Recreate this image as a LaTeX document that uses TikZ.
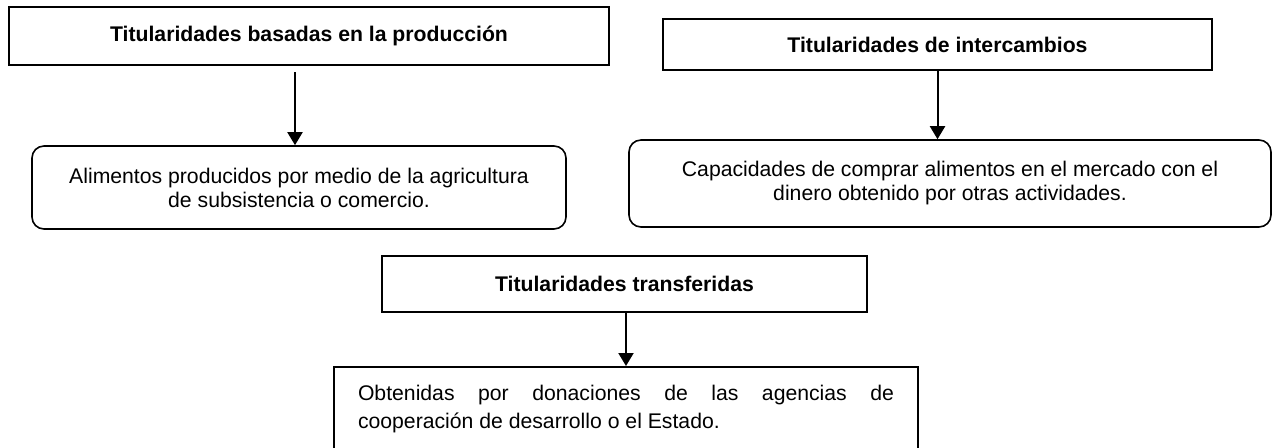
\documentclass[tikz,border=0pt]{standalone}
\usepackage{fontspec}
\setmainfont{Liberation Sans}
\usepackage{tikz}
\usetikzlibrary{arrows.meta}

\begin{document}
\begin{tikzpicture}[x=0.5pt,y=-0.5pt,
  titulo/.style={draw, line width=1pt, font=\fontsize{10.6}{12}\selectfont\bfseries},
  texto/.style={draw, line width=0.8pt, rounded corners=6pt, align=center, font=\fontsize{10.6}{12}\selectfont},
  flecha/.style={-{Triangle[width=7.5pt,length=6.5pt]}, line width=1pt}]
\useasboundingbox (0,0) rectangle (1274,447);

\node [titulo, minimum width=300pt, minimum height=29pt] (prod) at (309,36) {Titularidades basadas en la producción};
\node [texto, minimum width=267pt, minimum height=41.5pt] (alim) at (299,187.5) {Alimentos producidos por medio de la agricultura\\de subsistencia o comercio.};
\draw [flecha, shorten <=3pt] ([xshift=-2pt]alim.north |- prod.south) -- ([xshift=-2pt]alim.north);

\node [titulo, minimum width=274.5pt, minimum height=25.5pt] (inter) at (937.5,44.5) {Titularidades de intercambios};
\node [texto, minimum width=321pt, minimum height=43.5pt] (capa) at (950,183.5) {Capacidades de comprar alimentos en el mercado con el\\dinero obtenido por otras actividades.};
\draw [flecha] (inter.south) -- (inter.south |- capa.north);

\node [titulo, minimum width=242.5pt, minimum height=28pt] (trans) at (624.5,284) {Titularidades transferidas};
\node [draw, line width=1pt, minimum width=292pt, minimum height=42pt, text width=268pt, align=justify, font=\fontsize{10.6}{14}\selectfont] (dona) at (626,409) {Obtenidas por donaciones de las agencias de\linebreak cooperación de desarrollo o el Estado.};
\draw [flecha] (dona.north |- trans.south) -- (dona.north);

\end{tikzpicture}
\end{document}
